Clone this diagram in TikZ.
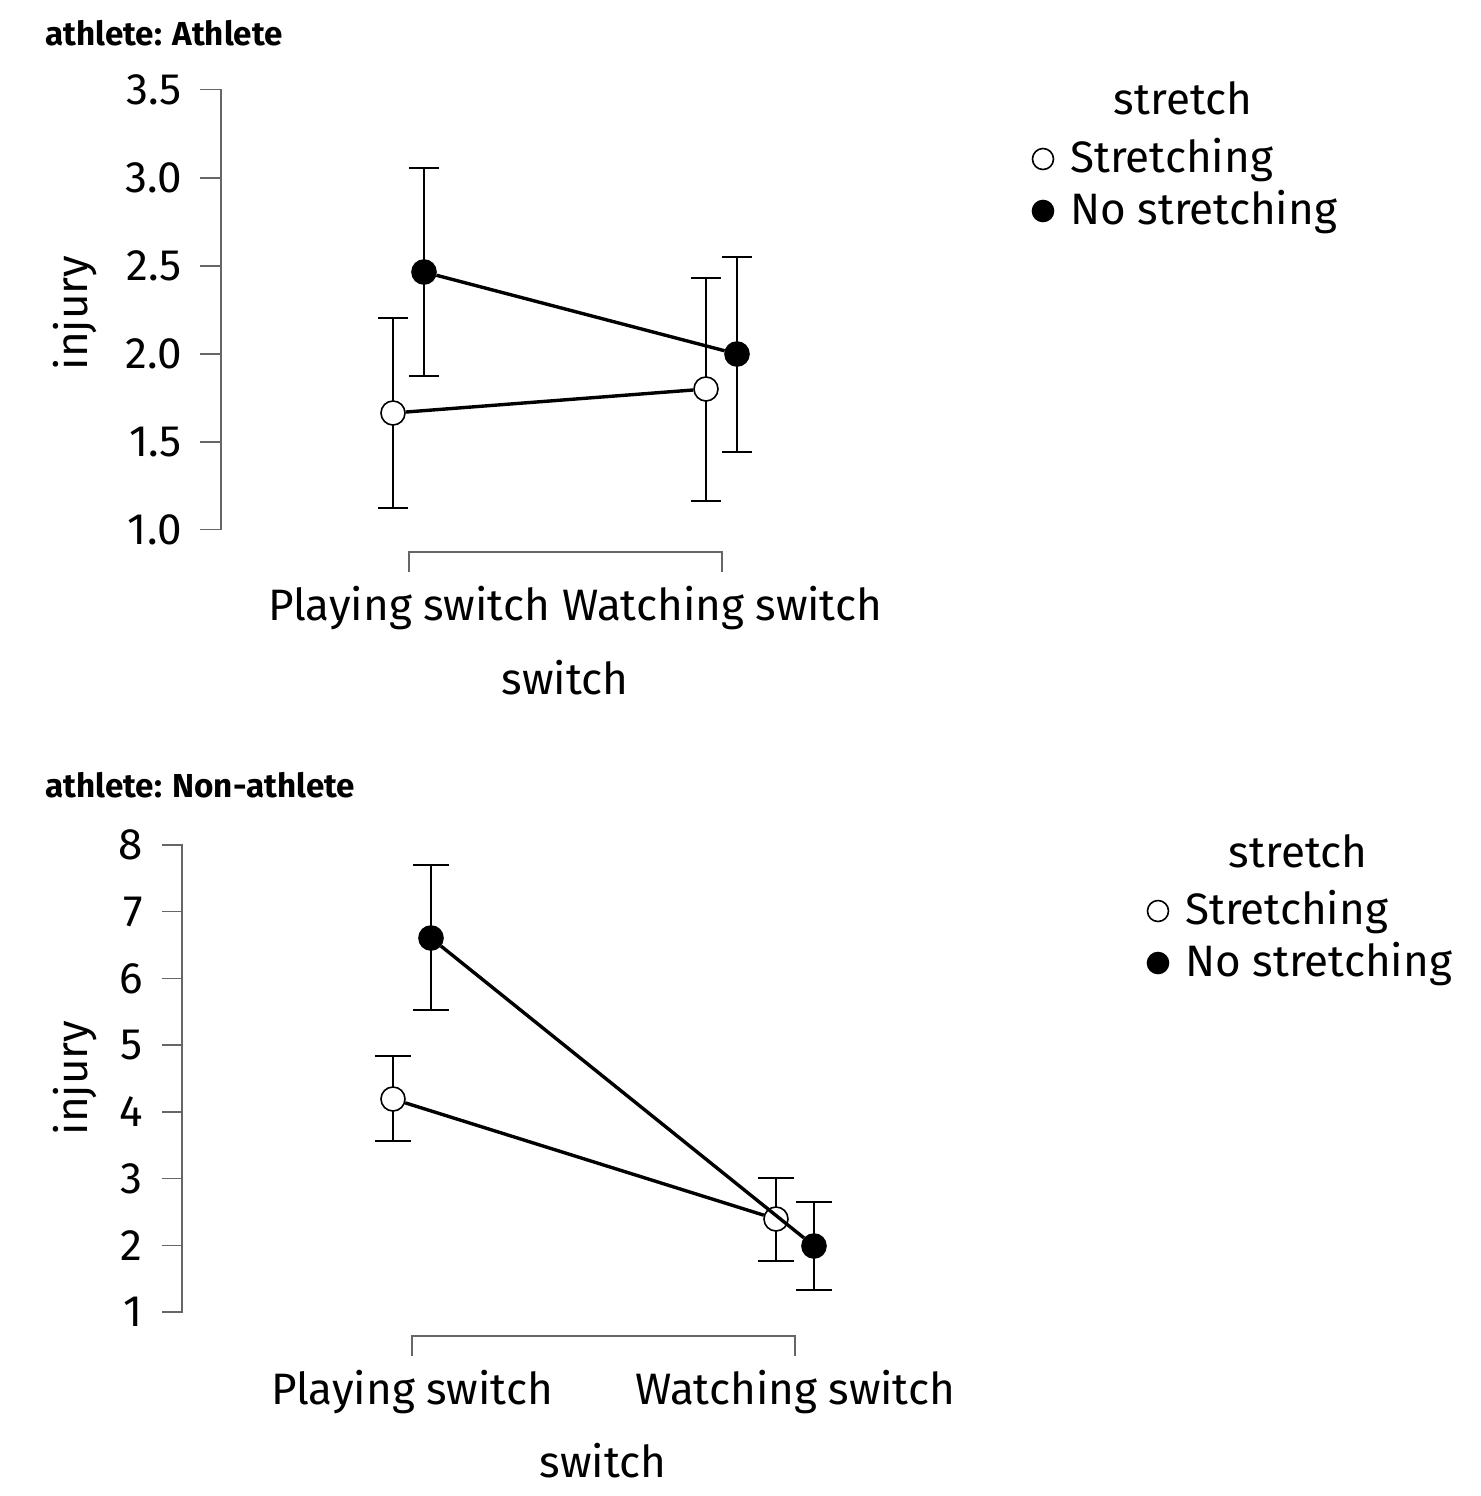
\documentclass[tikz,border=0pt]{standalone}
\usepackage{fontspec}
\setmainfont{Fira Sans}
\usepackage{tikz}
\usetikzlibrary{positioning}
\tikzstyle{open}=[circle,draw=black,fill=white,line width=0.8pt,inner sep=0pt,minimum size=12pt]
\tikzstyle{full}=[open,fill=black]
\tikzstyle{keyopen}=[open,minimum size=10.5pt]
\tikzstyle{keyfull}=[full,minimum size=10.5pt]
\tikzstyle{bar}=[line width=1.4pt]
\tikzstyle{meanline}=[line width=1.7pt]
\tikzstyle{axis}=[draw=black!60,line width=0.7pt]
\tikzstyle{lab}=[inner sep=0pt,font=\fontsize{22}{22}\selectfont]
\tikzstyle{tick}=[lab,anchor=east]
\tikzstyle{title}=[inner sep=0pt,anchor=base west,font=\fontsize{16.6}{16.6}\selectfont\bfseries]
\newcommand{\errbar}[4]{\draw[bar] (#1-#4,#2) -- (#1+#4,#2) (#1,#2) -- (#1,#3) (#1-#4,#3) -- (#1+#4,#3);}

\begin{document}
\begin{tikzpicture}[x=0.5pt,y=-0.5pt]
        \useasboundingbox (0,0) rectangle (1480,1496);
        % athlete
        \node at (45,45) [title] (t1) {athlete: Athlete};
        \draw[axis] (200,89.5) -- (221,89.5) -- (221,529.5) -- (200,529.5);
        \foreach \v/\y in {3.0/178,2.5/266,2.0/354,1.5/442}
          \draw[axis] (200,\y) -- (221,\y);
        \foreach \v/\y in {3.5/89.5,3.0/178,2.5/266,2.0/354,1.5/442,1.0/529.5}
          \node at (182,\y) [tick] {\v};
        \node at (75,313) [lab,rotate=90] (ya) {injury};
        \draw[axis] (409,572) -- (409,552) -- (722,552) -- (722,572);
        \node at (409,620) [lab,anchor=base] (xa1) {Playing switch};
        \node at (722,620) [lab,anchor=base] (xa2) {Watching switch};
        \node at (565,694) [lab,anchor=base] (xa) {switch};
        \errbar{393}{318}{508}{15}
        \errbar{706}{278}{501}{15}
        \errbar{424}{168}{376}{15}
        \errbar{737}{257}{452}{15}
        \node at (393,413) [open] (ap) {};
        \node at (706,389) [open] (aw) {};
        \node at (424,272) [full] (nap) {};
        \node at (737,354) [full] (naw) {};
        \draw[meanline] (ap) -- (aw);
        \draw[meanline] (nap) -- (naw);
        \node at (1183,114) [lab,anchor=base] (k1) {stretch};
        \node at (1043,159) [keyopen] (k1o) {};
        \node at (1070,172) [lab,anchor=base west] {Stretching};
        \node at (1043,211) [keyfull] (k1f) {};
        \node at (1070,224) [lab,anchor=base west] {No stretching};
        % non-athlete
        \node at (45,797) [title] (t2) {athlete: Non-athlete};
        \draw[axis] (162,845) -- (182,845) -- (182,1312) -- (162,1312);
        \foreach \y in {911.7,978.4,1045.1,1111.9,1178.6,1245.3}
          \draw[axis] (162,\y) -- (182,\y);
        \foreach \v in {1,...,8}
          \node at (143,{1312-(\v-1)*66.71}) [tick] {\v};
        \node at (75,1078) [lab,rotate=90] (yb) {injury};
        \draw[axis] (412,1356) -- (412,1336) -- (795,1336) -- (795,1356);
        \node at (412,1404) [lab,anchor=base] (xb1) {Playing switch};
        \node at (795,1404) [lab,anchor=base] (xb2) {Watching switch};
        \node at (603,1477) [lab,anchor=base] (xb) {switch};
        \errbar{393}{1056}{1141}{18}
        \errbar{776}{1178}{1261}{18}
        \errbar{431}{865}{1010}{18}
        \errbar{814}{1202}{1290}{18}
        \node at (393,1099) [open] (bp) {};
        \node at (776,1219) [open] (bw) {};
        \node at (431,938) [full] (nbp) {};
        \node at (814,1246) [full] (nbw) {};
        \draw[meanline] (bp) -- (bw);
        \draw[meanline] (nbp) -- (nbw);
        \node at (1298,867) [lab,anchor=base] (k2) {stretch};
        \node at (1158,911) [keyopen] (k2o) {};
        \node at (1185,924) [lab,anchor=base west] {Stretching};
        \node at (1158,963) [keyfull] (k2f) {};
        \node at (1185,976) [lab,anchor=base west] {No stretching};
      \end{tikzpicture}
\end{document}
